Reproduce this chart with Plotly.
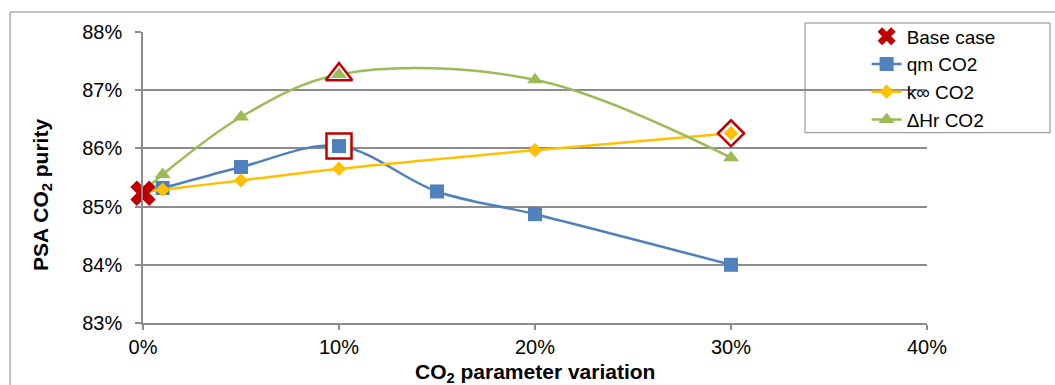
import plotly.graph_objects as go

# CO2 parameter variation (fraction) and PSA CO2 purity (fraction)
x_qm = [0.0, 0.01, 0.05, 0.10, 0.15, 0.20, 0.30]
y_qm = [0.8525, 0.8532, 0.8568, 0.8604, 0.8526, 0.8487, 0.8400]

x_k = [0.0, 0.01, 0.05, 0.10, 0.20, 0.30]
y_k = [0.8525, 0.8529, 0.8545, 0.8565, 0.8597, 0.8626]

x_h = [0.0, 0.01, 0.05, 0.10, 0.20, 0.30]
y_h = [0.8525, 0.8555, 0.8654, 0.8727, 0.8718, 0.8584]

base_x = [0.0]
base_y = [0.8523]

# optimum points of each series (highlighted)
best_qm = (0.10, 0.8604)
best_k = (0.30, 0.8626)
best_h = (0.10, 0.8727)

x_ticks = [0.0, 0.1, 0.2, 0.3, 0.4]
y_ticks = [0.83, 0.84, 0.85, 0.86, 0.87, 0.88]

BLUE = "#4F81BD"
ORANGE = "#FFC000"
GREEN = "#9BBB59"
RED = "#C00000"
GRID = "#8C8C8C"
FONT = "Liberation Sans, Arial, sans-serif"

fig = go.Figure()

fig.add_trace(go.Scatter(
    x=base_x, y=base_y, mode="markers", name="Base case", cliponaxis=False,
    marker=dict(symbol="x", size=22, color=RED, line=dict(width=0)),
))
fig.add_trace(go.Scatter(
    x=x_qm, y=y_qm, mode="lines+markers", name="qm CO2", cliponaxis=False,
    line=dict(color=BLUE, width=2.5, shape="spline", smoothing=1.0),
    marker=dict(symbol="square", size=14, color=BLUE),
))
fig.add_trace(go.Scatter(
    x=x_k, y=y_k, mode="lines+markers", name="k\u221e CO2", cliponaxis=False,
    line=dict(color=ORANGE, width=2.5, shape="spline", smoothing=1.0),
    marker=dict(symbol="diamond", size=11, color=ORANGE),
))
fig.add_trace(go.Scatter(
    x=x_h, y=y_h, mode="lines+markers", name="\u0394Hr CO2", cliponaxis=False,
    line=dict(color=GREEN, width=2.5, shape="spline", smoothing=1.0),
    marker=dict(symbol="triangle-up", size=14, color=GREEN),
))

# highlight frames around the optimum points
for (px, py), sym, sz, col, inner in [
    (best_qm, "square", 25, BLUE, 14),
    (best_k, "diamond", 20, ORANGE, 11),
    (best_h, "triangle-up", 23, GREEN, 14),
]:
    fig.add_trace(go.Scatter(
        x=[px], y=[py], mode="markers", showlegend=False, hoverinfo="skip",
        marker=dict(symbol=sym, size=sz, color="white", line=dict(color=RED, width=2.5)),
    ))
    fig.add_trace(go.Scatter(
        x=[px], y=[py], mode="markers", showlegend=False, hoverinfo="skip",
        marker=dict(symbol=sym, size=inner, color=col),
    ))

# base case marker on top
fig.add_trace(go.Scatter(
    x=base_x, y=base_y, mode="markers", showlegend=False, hoverinfo="skip",
    cliponaxis=False,
    marker=dict(symbol="x", size=22, color=RED, line=dict(width=0)),
))

# outer chart frame and legend box
fig.add_shape(type="rect", xref="paper", yref="paper",
              x0=-0.1696, x1=1.3, y0=-0.4, y1=1.0687,
              line=dict(color="#868686", width=1), fillcolor="rgba(0,0,0,0)", layer="below")
fig.add_shape(type="rect", xref="paper", yref="paper",
              x0=0.8444, x1=1.1569, y0=0.654, y1=1.0309,
              line=dict(color="#868686", width=1), fillcolor="white", layer="below")

# axis titles
fig.add_annotation(
    text="<b>PSA CO<sub>2</sub> purity</b>", xref="paper", yref="paper",
    x=-0.1288, y=0.44, xanchor="center", yanchor="middle", textangle=-90,
    showarrow=False, font=dict(family=FONT, size=21, color="black"),
)
fig.add_annotation(
    text="<b>CO<sub>2</sub> parameter variation</b>", xref="paper", yref="paper",
    x=0.5, y=-0.172, xanchor="center", yanchor="middle",
    showarrow=False, font=dict(family=FONT, size=21, color="black"),
)

fig.update_layout(
    width=1055, height=385,
    margin=dict(l=143, r=128, t=32, b=62),
    paper_bgcolor="white", plot_bgcolor="white",
    font=dict(family=FONT, size=20, color="black"),
    legend=dict(
        x=0.923, y=1.05, xanchor="left", yanchor="top",
        bgcolor="rgba(0,0,0,0)", borderwidth=0,
        font=dict(family=FONT, size=19, color="black"),
        traceorder="normal",
    ),
    xaxis=dict(
        range=[0, 0.4], tickvals=x_ticks, tickformat=".0%",
        showgrid=False, zeroline=False,
        showline=True, linecolor=GRID, linewidth=1.5,
        ticks="outside", ticklen=5, tickcolor=GRID, tickwidth=1.5,
        ticklabelstandoff=0,
    ),
    yaxis=dict(
        range=[0.83, 0.88], tickvals=y_ticks, tickformat=".0%",
        showgrid=True, gridcolor=GRID, gridwidth=1.5, zeroline=False,
        showline=True, linecolor=GRID, linewidth=1.5,
        ticks="outside", ticklen=6, tickcolor=GRID, tickwidth=1.5,
        ticklabelstandoff=9,
    ),
)

fig.write_html("out.html")
